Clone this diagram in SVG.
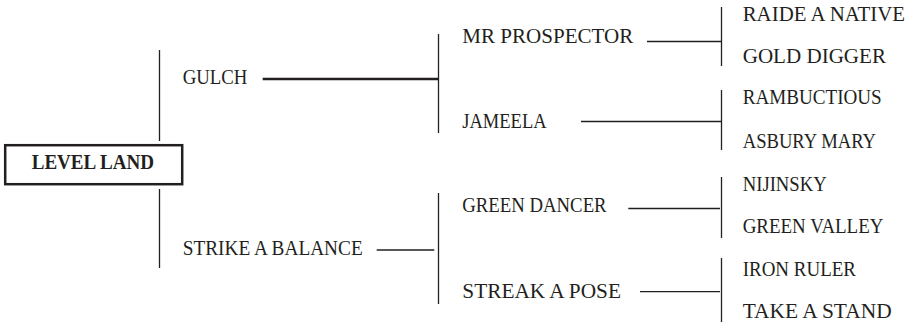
<svg xmlns="http://www.w3.org/2000/svg" width="914" height="322" viewBox="0 0 914 322">
<style>
text{font-family:"Liberation Serif","Times New Roman",serif;font-size:20px;fill:#231f20}
.b{font-weight:bold}
.c line{stroke:#231f20;stroke-width:1.3}
.c .t{stroke-width:2.4}
</style>
<rect width="914" height="322" fill="#fff"/>
<g class="c" id="connectors">
<line x1="159.5" y1="50" x2="159.5" y2="141"/>
<line x1="159.5" y1="189" x2="159.5" y2="268"/>
<line class="t" x1="262.7" y1="79" x2="438.5" y2="79"/>
<line x1="438.5" y1="34" x2="438.5" y2="133"/>
<line x1="376.7" y1="250" x2="434.3" y2="250"/>
<line x1="438.5" y1="193" x2="438.5" y2="304"/>
<line x1="647" y1="41.5" x2="721.5" y2="41.5"/>
<line x1="721.5" y1="7" x2="721.5" y2="66"/>
<line x1="581" y1="121.5" x2="721.5" y2="121.5"/>
<line x1="721.5" y1="90" x2="721.5" y2="150"/>
<line x1="628.3" y1="208.5" x2="720" y2="208.5"/>
<line x1="721.5" y1="177" x2="721.5" y2="238"/>
<line x1="640" y1="291.7" x2="720" y2="291.7"/>
<line x1="721.5" y1="258" x2="721.5" y2="322"/>
</g>
<g id="level-land">
<rect x="5.2" y="145.2" width="177" height="39" fill="#fff" stroke="#231f20" stroke-width="2.5"/>
<text class="b" x="31.7" y="169.3" textLength="122.3" lengthAdjust="spacingAndGlyphs">LEVEL LAND</text>
</g>
<g id="gulch"><text x="182.7" y="84" textLength="64.7" lengthAdjust="spacingAndGlyphs">GULCH</text></g>
<g id="strike-a-balance"><text x="182.7" y="255" textLength="180" lengthAdjust="spacingAndGlyphs">STRIKE A BALANCE</text></g>
<g id="mr-prospector"><text x="462.3" y="43" textLength="171" lengthAdjust="spacingAndGlyphs">MR PROSPECTOR</text></g>
<g id="jameela"><text x="462.3" y="127.7" textLength="84.3" lengthAdjust="spacingAndGlyphs">JAMEELA</text></g>
<g id="green-dancer"><text x="462.3" y="211.7" textLength="144.3" lengthAdjust="spacingAndGlyphs">GREEN DANCER</text></g>
<g id="streak-a-pose"><text x="462.3" y="297.5" textLength="158.7" lengthAdjust="spacingAndGlyphs">STREAK A POSE</text></g>
<g id="raide-a-native"><text x="742.7" y="20.7" textLength="162.3" lengthAdjust="spacingAndGlyphs">RAIDE A NATIVE</text></g>
<g id="gold-digger"><text x="742.7" y="63.3" textLength="143.3" lengthAdjust="spacingAndGlyphs">GOLD DIGGER</text></g>
<g id="rambuctious"><text x="742.7" y="104" textLength="139" lengthAdjust="spacingAndGlyphs">RAMBUCTIOUS</text></g>
<g id="asbury-mary"><text x="742.7" y="147.7" textLength="133.3" lengthAdjust="spacingAndGlyphs">ASBURY MARY</text></g>
<g id="nijinsky"><text x="742.7" y="190.7" textLength="84" lengthAdjust="spacingAndGlyphs">NIJINSKY</text></g>
<g id="green-valley"><text x="742.7" y="232.7" textLength="140.7" lengthAdjust="spacingAndGlyphs">GREEN VALLEY</text></g>
<g id="iron-ruler"><text x="742.7" y="275.7" textLength="113.3" lengthAdjust="spacingAndGlyphs">IRON RULER</text></g>
<g id="take-a-stand"><text x="742.7" y="317.7" textLength="149" lengthAdjust="spacingAndGlyphs">TAKE A STAND</text></g>
</svg>
